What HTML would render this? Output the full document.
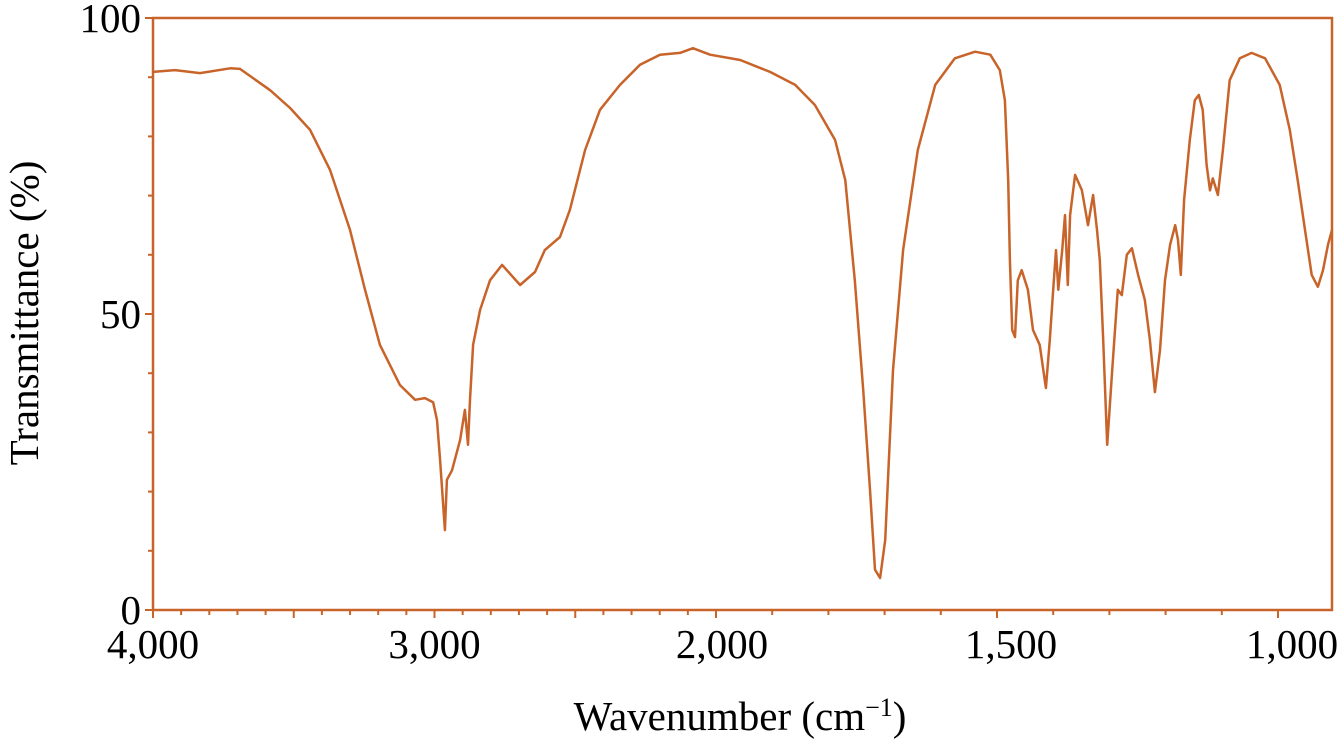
<!DOCTYPE html>
<html><head><meta charset="utf-8"><style>
html,body{margin:0;padding:0;background:#fff;}
svg{display:block;}
text{font-family:"Liberation Serif",serif;fill:#000;}
</style></head><body>
<svg id="chart" width="1338" height="744" viewBox="0 0 1338 744">
<g id="axes"></g>
<g id="series"></g>
<text x="38" y="313" font-size="41" text-anchor="middle" transform="rotate(-90 38 313)">Transmittance (%)</text>
<text x="740" y="730" font-size="41" text-anchor="middle">Wavenumber (cm<tspan baseline-shift="super" font-size="26">−1</tspan>)</text>
</svg>
<script>
const wavenumbers = [4000,3922,3833,3726,3691,3584,3513,3442,3371,3300,3247,3194,3123,3069,3034,3005,2991,2980,2963,2956,2938,2909,2892,2881,2874,2863,2838,2803,2760,2696,2643,2608,2554,2519,2465,2412,2341,2270,2199,2128,2082,2021,1957,1904,1859,1824,1788,1770,1753,1738,1726,1717,1708,1699,1685,1667,1641,1610,1575,1539,1512,1495,1486,1480,1477,1473,1468,1463,1456,1445,1436,1424,1413,1406,1400,1395,1391,1384,1379,1374,1370,1361,1349,1338,1329,1322,1317,1311,1304,1295,1285,1278,1269,1260,1249,1237,1228,1219,1210,1201,1192,1183,1178,1173,1167,1157,1148,1141,1134,1127,1121,1116,1107,1098,1086,1068,1047,1023,997,979,965,952,940,929,920,911,904];
const transmittance = [90.9,91.2,90.7,91.5,91.4,87.8,84.8,81.1,74.3,64.2,54.1,44.8,38.0,35.5,35.8,35.1,32.1,25.3,13.5,22,23.6,28.7,33.8,27.9,35.5,44.8,50.7,55.7,58.3,54.9,57.1,60.8,63.0,67.6,77.7,84.5,88.7,92.1,93.8,94.1,94.9,93.8,92.9,90.9,88.7,85.3,79.4,72.6,55.7,37.2,20.3,6.8,5.4,11.8,40.5,60.8,77.7,88.7,93.2,94.3,93.8,91.2,86.1,72.6,59.1,47.3,46.1,55.7,57.4,54.1,47.3,44.8,37.5,45.6,54.1,60.8,54.1,60.8,66.7,54.9,66.7,73.5,70.9,65.0,70.1,64.2,59.1,45.6,27.9,40.5,54.1,53.2,60.0,61.1,56.6,52.4,45.6,36.8,43.9,55.7,61.7,65.0,62.5,56.6,69.3,79.4,86.1,87.0,84.5,75.2,70.9,72.9,70.1,77.7,89.5,93.2,94.1,93.2,88.7,81.1,72.6,64.2,56.6,54.6,57.4,61.7,64.2];
const xTickLabels = ["4,000","3,000","2,000","1,500","1,000"];
const xTickValues = [4000,3000,2000,1500,1000];
const yTickValues = [0,50,100];

const NS="http://www.w3.org/2000/svg";
const C="#c8642a";
const L=153,R=1332,T=18,B=610;
const WN_MIN=904;
function xs(wn){return wn>=2000 ? L+(4000-wn)*0.2815 : 716+(2000-wn)*0.562;}
function ys(v){return B-(v/100)*(B-T);}
function mk(tag,attrs,parent){const e=document.createElementNS(NS,tag);for(const k in attrs)e.setAttribute(k,attrs[k]);parent.appendChild(e);return e;}
const axes=document.getElementById('axes');
const frame=mk('rect',{x:L,y:T,width:R-L,height:B-T,fill:'none',stroke:C,'stroke-width':2.5},axes);


for(let wn=4000;wn>=WN_MIN;wn-=100){
  const major=wn%500===0;
  const t=mk('line',{x1:xs(wn),x2:xs(wn),y1:B,y2:B+(major?8:5),stroke:C,'stroke-width':2},axes);
  
  
}
for(let v=0;v<=100;v+=10){
  const t=mk('line',{x1:L,x2:L-(v%50===0?8:5),y1:ys(v),y2:ys(v),stroke:C,'stroke-width':2},axes);
  
  
}
xTickValues.forEach((wn,i)=>{
  const t=mk('text',{x:xs(wn)+(wn<2000?14:(wn===2000?6:0)),y:658,'font-size':41,'text-anchor':'middle'},axes);
  t.textContent=xTickLabels[i];
  
  
});
yTickValues.forEach(v=>{
  const t=mk('text',{x:141,y:ys(v)+14,'font-size':41,'text-anchor':'end'},axes);
  t.textContent=String(v);
  
  
});
const d=wavenumbers.map((w,i)=>(i?'L':'M')+xs(w).toFixed(1)+' '+ys(transmittance[i]).toFixed(1)).join(' ');
const p=mk('path',{d:d,fill:'none',stroke:C,'stroke-width':2.5,'stroke-linejoin':'round'},document.getElementById('series'));


</script>
</body></html>
